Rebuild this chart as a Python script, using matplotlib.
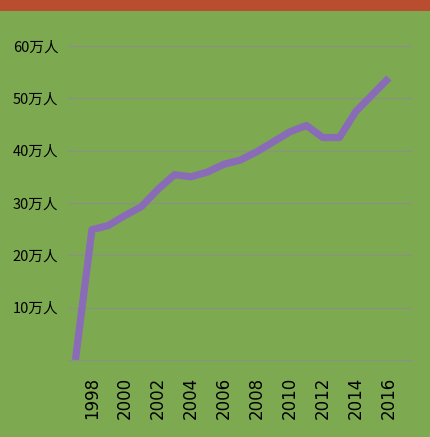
import matplotlib
matplotlib.use('Agg')
import matplotlib.pyplot as plt

# data (unit: 万人)
years = [1997, 1998, 1999, 2000, 2001, 2002, 2003, 2004, 2005, 2006,
         2007, 2008, 2009, 2010, 2011, 2012, 2013, 2014, 2015, 2016]
values = [0.0, 24.9, 25.7, 27.6, 29.3, 32.6, 35.4, 35.0, 35.9, 37.4,
          38.2, 39.8, 41.7, 43.6, 44.8, 42.5, 42.5, 47.5, 50.7, 53.9]
x_ticks = list(range(1998, 2017, 2))
y_ticks = [10, 20, 30, 40, 50, 60]
y_labels = [str(v) + '万人' for v in y_ticks]

bg_green = '#7DAA50'
banner_red = '#B84E2F'
line_purple = '#8A6BB8'
grid_grey = '#8E9088'

fig = plt.figure(figsize=(4.3, 4.37), dpi=100)
fig.patch.set_facecolor(bg_green)

# red banner strip at the top
banner = fig.add_axes([0, 1 - 11 / 437, 1, 11 / 437])
banner.set_facecolor(banner_red)
banner.set_xticks([])
banner.set_yticks([])
for s in banner.spines.values():
    s.set_visible(False)

ax = fig.add_axes([68 / 430, 1 - 360 / 437, (412 - 68) / 430, (360 - 35.5) / 437])
ax.set_facecolor(bg_green)
ax.plot(years, values, color=line_purple, linewidth=5.2, solid_capstyle='butt',
        solid_joinstyle='round', zorder=3)

ax.set_xlim(1996.55, 2017.4)
ax.set_ylim(0, 62)

ax.set_yticks(y_ticks)
ax.set_yticklabels(y_labels, family=['Noto Sans CJK SC', 'DejaVu Sans'], fontsize=10.5)
ax.set_xticks(x_ticks)
ax.set_xticklabels([str(y) for y in x_ticks], rotation=90, fontsize=12, family='DejaVu Sans')
ax.tick_params(axis='both', length=0, colors='black')
ax.tick_params(axis='y', pad=7)
ax.tick_params(axis='x', pad=12)

ax.grid(axis='y', color=grid_grey, linewidth=0.8, zorder=1)
for side in ['left', 'right', 'top']:
    ax.spines[side].set_visible(False)
ax.spines['bottom'].set_color(grid_grey)
ax.spines['bottom'].set_linewidth(0.8)

plt.savefig('out.png', dpi=100, facecolor=fig.get_facecolor())
